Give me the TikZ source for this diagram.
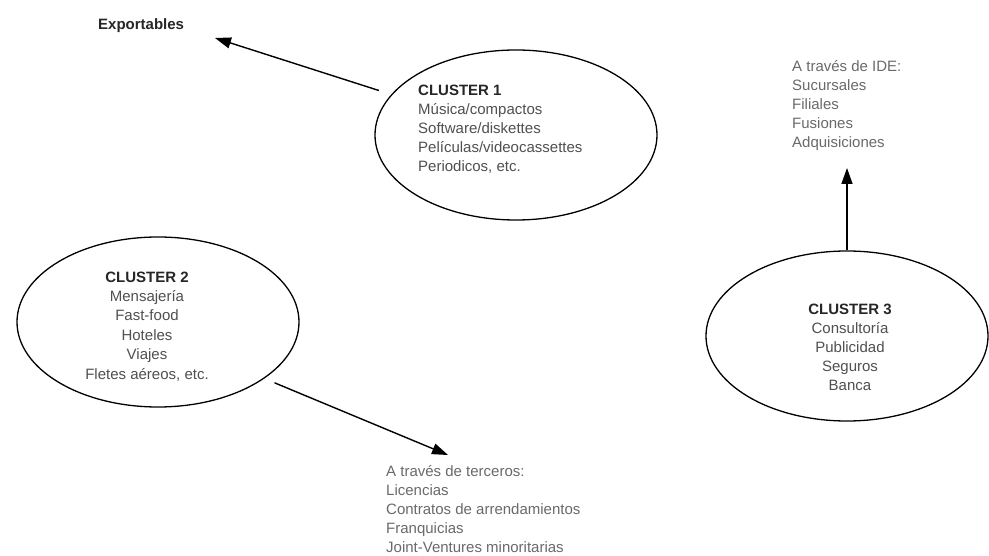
\documentclass[tikz,border=0pt]{standalone}
\usepackage{fontspec}
\setmainfont{Liberation Sans}
\usetikzlibrary{shapes.geometric,arrows.meta,calc}
\definecolor{titlegray}{HTML}{262626}
\definecolor{itemgray}{HTML}{505050}
\definecolor{notegray}{HTML}{6A6A6A}
\begin{document}
\begin{tikzpicture}[x=1pt,y=-1pt,
  cluster/.style={ellipse, draw=black, line width=1.3pt,
    minimum width=282pt, minimum height=170pt, inner sep=0pt},
  block/.style={font=\fontsize{15}{19}\selectfont, text=itemgray, inner sep=0pt},
  note/.style={font=\fontsize{15}{19}\selectfont, text=notegray, inner sep=0pt,
    align=left, anchor=base west},
  link/.style={draw=black, line width=1.4pt, -{Triangle[length=16pt,width=11pt]}}
]
% canvas
\fill[white] (0,0) rectangle (989,556);
\useasboundingbox (0,0) rectangle (989,556);

% the three clusters
\node[cluster] (c1) at (516,135) {};
\node[cluster] (c2) at (158,322) {};
\node[cluster] (c3) at (847,336) {};

% multi-line blocks are placed by the baseline of their last line
\node[block, align=left, anchor=base west] (t1) at (418,172)
  {{\color{titlegray}\bfseries CLUSTER 1}\\
   Música/compactos\\
   Software/diskettes\\
   Películas/videocassettes\\
   Periodicos, etc.};

\node[block, align=center, anchor=base, font=\fontsize{15}{19.4}\selectfont] (t2) at (147,379)
  {{\color{titlegray}\bfseries CLUSTER 2}\\
   Mensajería\\
   Fast-food\\
   Hoteles\\
   Viajes\\
   Fletes aéreos, etc.};

\node[block, align=center, anchor=base] (t3) at (850,390)
  {{\color{titlegray}\bfseries CLUSTER 3}\\
   Consultoría\\
   Publicidad\\
   Seguros\\
   Banca};

% destinations
\node[font=\fontsize{15}{19}\selectfont\bfseries, text=titlegray, inner sep=0pt,
  anchor=base west] (exp) at (98,30) {Exportables};

\node[note] (ide) at (792,148)
  {A través de IDE:\\
   Sucursales\\
   Filiales\\
   Fusiones\\
   Adquisiciones};

\node[note] (ter) at (386,552)
  {A través de terceros:\\
   Licencias\\
   Contratos de arrendamientos\\
   Franquicias\\
   Joint-Ventures minoritarias};

% arrow tips
\coordinate (exptip) at (215,38);
\coordinate (tertip) at (448,455);
\coordinate (idetip) at (c3.north |- 0,168);

% connectors; the first two leave a small gap after their ellipse
\draw[link] ($(c1.162.2)!13pt!(exptip)$) -- (exptip);
\draw[link] ($(c2.-28.5)!11pt!(tertip)$) -- (tertip);
\draw[link] (c3.north) -- (idetip);
\end{tikzpicture}
\end{document}
